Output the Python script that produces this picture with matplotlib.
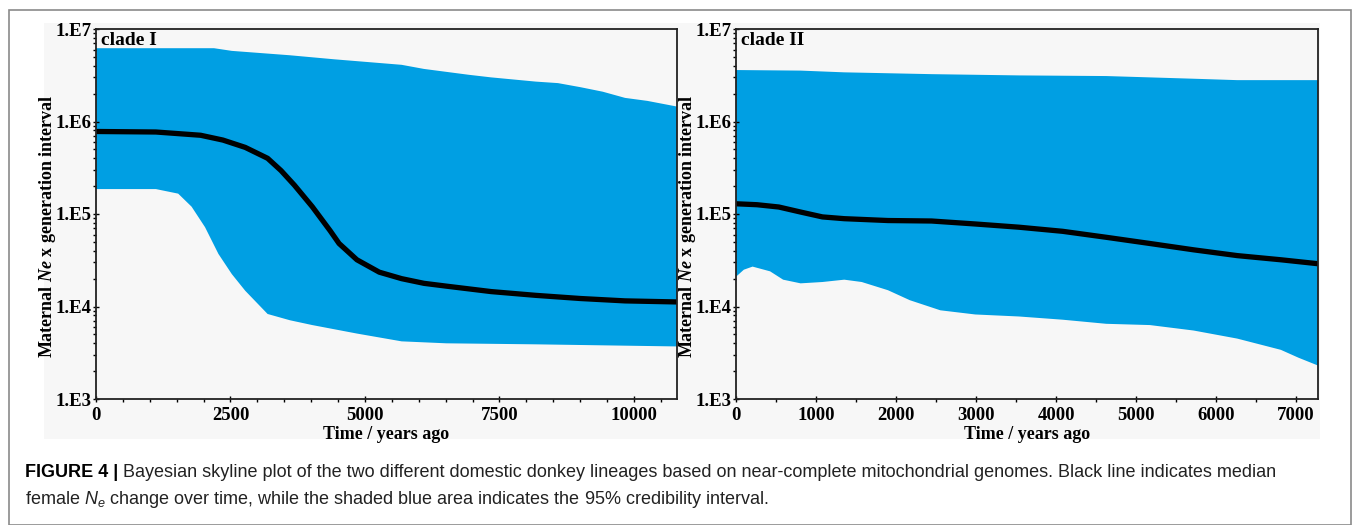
import matplotlib
matplotlib.use("Agg")
import matplotlib.pyplot as plt
from matplotlib.patches import Rectangle
from matplotlib.ticker import FixedLocator, LogLocator, NullFormatter
import numpy as np

# clade I: 95% HPD upper / lower and median (years ago, Ne x generation)
c1_up_x = [0, 1500, 2193, 2525, 3605, 4435, 5681, 6097, 6927, 7343, 8173, 8588, 9004, 9419, 9834, 10250, 10800]
c1_up_y = [6.2e6, 6.2e6, 6.2e6, 5.8e6, 5.2e6, 4.7e6, 4.1e6, 3.7e6, 3.2e6, 3.0e6, 2.7e6, 2.6e6, 2.35e6, 2.1e6, 1.8e6, 1.67e6, 1.45e6]
c1_med_x = [0, 1113, 1944, 2359, 2774, 3190, 3439, 3688, 4020, 4352, 4518, 4850, 5266, 5681, 6097, 6512, 7343, 8173, 9004, 9834, 10800]
c1_med_y = [7.8e5, 7.7e5, 7.1e5, 6.3e5, 5.25e5, 4.0e5, 2.95e5, 2.05e5, 1.2e5, 6.6e4, 4.8e4, 3.2e4, 2.35e4, 2.0e4, 1.78e4, 1.66e4, 1.45e4, 1.32e4, 1.22e4, 1.15e4, 1.12e4]
c1_lo_x = [0, 1113, 1528, 1777, 2027, 2276, 2525, 2774, 3190, 3605, 4020, 4850, 5681, 6512, 8173, 10800]
c1_lo_y = [1.86e5, 1.86e5, 1.66e5, 1.2e5, 7.2e4, 3.7e4, 2.24e4, 1.48e4, 8.3e3, 7.1e3, 6.3e3, 5.1e3, 4.2e3, 4.0e3, 3.9e3, 3.7e3]

# clade II
c2_up_x = [0, 807, 1353, 2444, 3535, 4627, 5718, 6263, 7273]
c2_up_y = [3.6e6, 3.55e6, 3.4e6, 3.25e6, 3.15e6, 3.1e6, 2.9e6, 2.8e6, 2.8e6]
c2_med_x = [0, 262, 535, 807, 1080, 1353, 1899, 2444, 2990, 3535, 4081, 4627, 5172, 5718, 6263, 6809, 7273]
c2_med_y = [1.29e5, 1.26e5, 1.19e5, 1.05e5, 9.3e4, 8.9e4, 8.5e4, 8.4e4, 7.8e4, 7.2e4, 6.5e4, 5.6e4, 4.8e4, 4.1e4, 3.55e4, 3.2e4, 2.9e4]
c2_lo_x = [0, 98, 207, 426, 589, 807, 1080, 1353, 1571, 1899, 2172, 2553, 2990, 3535, 4081, 4627, 5172, 5718, 6263, 6809, 7027, 7273]
c2_lo_y = [2.1e4, 2.5e4, 2.7e4, 2.4e4, 1.95e4, 1.78e4, 1.84e4, 1.95e4, 1.84e4, 1.5e4, 1.17e4, 9.1e3, 8.2e3, 7.8e3, 7.2e3, 6.5e3, 6.3e3, 5.5e3, 4.5e3, 3.4e3, 2.8e3, 2.3e3]

y_ticks = [1e3, 1e4, 1e5, 1e6, 1e7]
y_ticklabels = ["1.E3", "1.E4", "1.E5", "1.E6", "1.E7"]

panels = [
    dict(title="clade I", up=(c1_up_x, c1_up_y), med=(c1_med_x, c1_med_y), lo=(c1_lo_x, c1_lo_y),
         xmax=10800, major=2500, minor=500),
    dict(title="clade II", up=(c2_up_x, c2_up_y), med=(c2_med_x, c2_med_y), lo=(c2_lo_x, c2_lo_y),
         xmax=7273, major=1000, minor=500),
]

plt.rcParams['mathtext.fontset'] = 'custom'
plt.rcParams['mathtext.it'] = 'Liberation Serif:italic:bold'
plt.rcParams['mathtext.sf'] = 'Liberation Sans:italic'

W, H = 1355, 525
fig = plt.figure(figsize=(W / 100, H / 100), dpi=100)
fig.patch.set_facecolor("white")

def px(x0, y0, x1, y1):
    return [x0 / W, 1 - y1 / H, (x1 - x0) / W, (y1 - y0) / H]

# outer frame and grey image area (behind the axes)
fig.patches.append(Rectangle((9 / W, 0.5 / H), (1351 - 9) / W, (524 - 9) / H, transform=fig.transFigure,
                             fill=False, edgecolor="#8a8a8a", linewidth=1.2, zorder=-2))
fig.patches.append(Rectangle((44 / W, 1 - 439 / H), (1320 - 44) / W, (439 - 23) / H, transform=fig.transFigure,
                             facecolor="#f7f7f7", edgecolor="none", zorder=-1))

blue = "#009fe3"
serif = "Liberation Serif"
boxes = [px(96, 29, 677, 399), px(736, 29, 1318, 399)]
ylab_x = [48, 688]

for p, box, lx in zip(panels, boxes, ylab_x):
    ax = fig.add_axes(box)
    ax.set_facecolor("#f7f7f7")
    ax.set_yscale("log")
    ax.set_ylim(1e3, 1e7)
    ax.set_xlim(0, p["xmax"])

    ux, uy = p["up"]
    lx_, ly = p["lo"]
    ax.fill(np.concatenate([ux, lx_[::-1]]), np.concatenate([uy, ly[::-1]]),
            color=blue, linewidth=0, zorder=1)
    mx, my = p["med"]
    ax.plot(mx, my, color="black", linewidth=3.8, solid_capstyle="butt",
            solid_joinstyle="round", zorder=2)

    ax.set_yticks(y_ticks)
    ax.set_yticklabels(y_ticklabels)
    ax.yaxis.set_minor_locator(LogLocator(base=10, subs=np.arange(2, 10)))
    ax.yaxis.set_minor_formatter(NullFormatter())
    ax.xaxis.set_major_locator(FixedLocator(np.arange(0, p["xmax"] + 1, p["major"])))
    ax.xaxis.set_minor_locator(FixedLocator(np.arange(0, p["xmax"] + 1, p["minor"])))
    ax.tick_params(axis="both", which="major", direction="inout", length=5, width=1,
                   labelsize=13.5, pad=1)
    ax.tick_params(axis="both", which="minor", direction="out", length=2.5, width=1)
    ax.tick_params(axis="x", which="major", pad=3)
    for lab in ax.get_xticklabels() + ax.get_yticklabels():
        lab.set_fontfamily(serif)
        lab.set_fontweight("bold")
    for s in ax.spines.values():
        s.set_linewidth(1.3)
        s.set_color("#222222")

    ax.set_xlabel("Time / years ago", fontfamily=serif, fontweight="bold", fontsize=13, labelpad=2)
    ax.text(0.008, 0.992, p["title"], transform=ax.transAxes, ha="left", va="top",
            fontfamily=serif, fontweight="bold", fontsize=14, zorder=3)

    fig.text(lx / W, 1 - 226 / H, r"Maternal $Ne$ x generation interval",
             rotation=90, ha="center", va="center", fontfamily=serif, fontweight="bold", fontsize=13)

# caption
cap_size = 13
t1 = fig.text(25 / W, 1 - 477 / H, "FIGURE 4 |", fontfamily="Liberation Sans", fontweight="bold",
              fontsize=cap_size, ha="left", va="baseline")
r = fig.canvas.get_renderer()
bb = t1.get_window_extent(renderer=r)
fig.text(bb.x1 / W + 5 / W, 1 - 477 / H,
         "Bayesian skyline plot of the two different domestic donkey lineages based on near-complete mitochondrial genomes. Black line indicates median",
         fontfamily="Liberation Sans", fontsize=cap_size, ha="left", va="baseline", color="#222222")
fig.text(25 / W, 1 - 504 / H,
         r"female $\mathsf{N_e}$ change over time, while the shaded blue area indicates the 95% credibility interval.",
         fontfamily="Liberation Sans", fontsize=cap_size, ha="left", va="baseline", color="#222222")

fig.savefig("out.png", dpi=100)
